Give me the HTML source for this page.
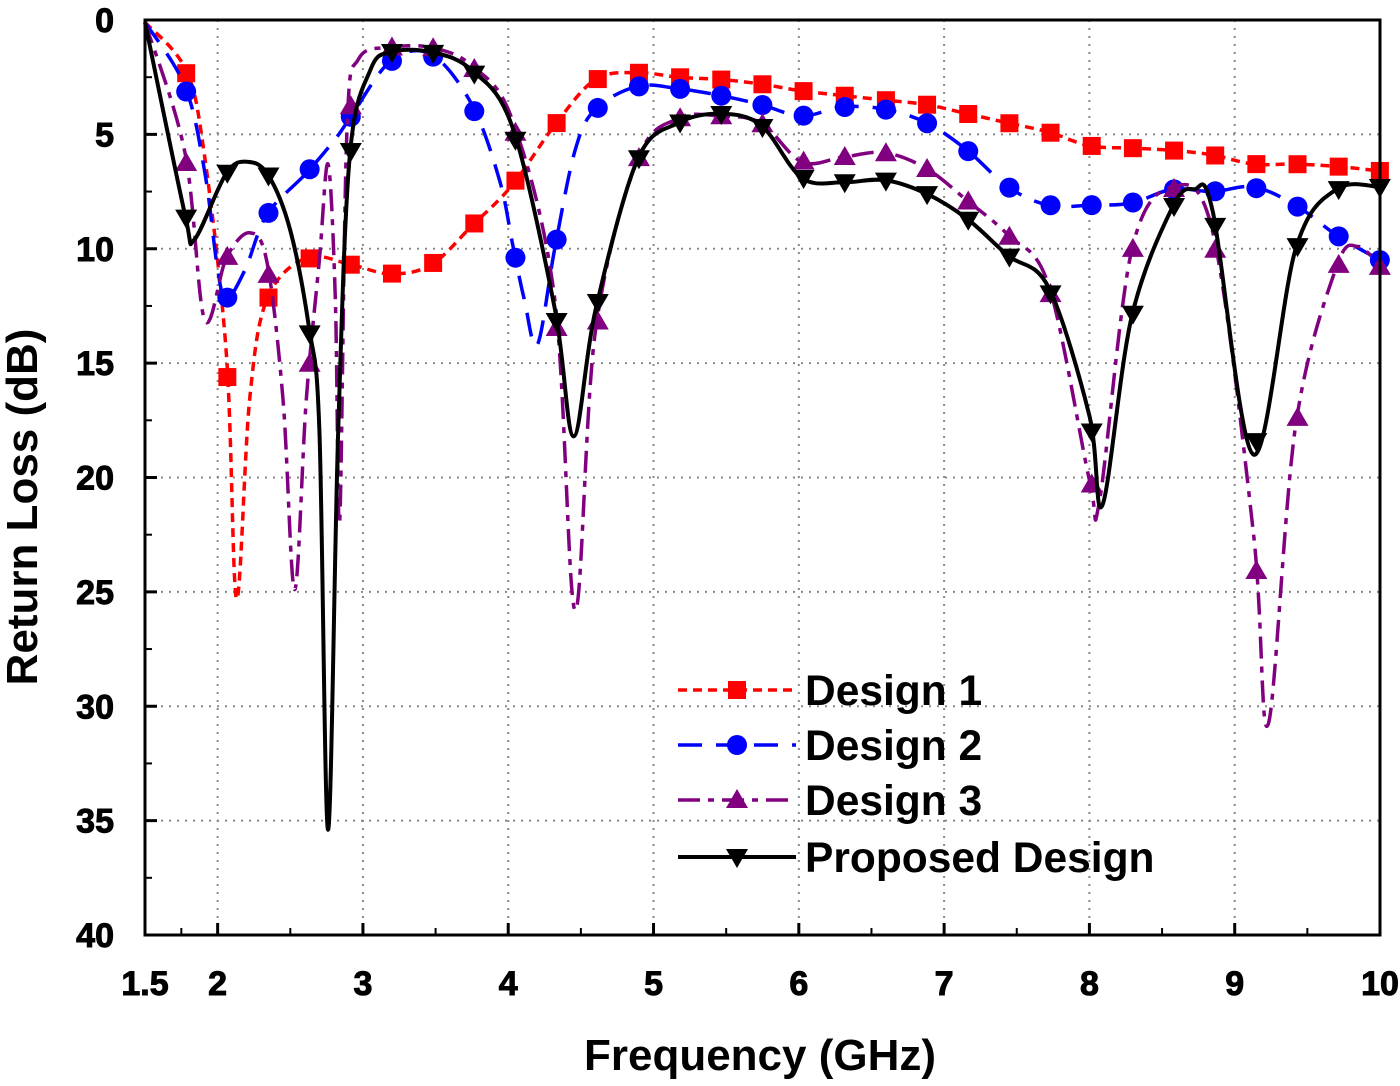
<!DOCTYPE html>
<html><head><meta charset="utf-8"><style>
html,body{margin:0;padding:0;background:#fff;}
svg text{font-family:"Liberation Sans",Arial,sans-serif;font-weight:bold;}
</style></head><body>
<svg id="chart" width="1400" height="1081" viewBox="0 0 1400 1081" xmlns="http://www.w3.org/2000/svg">
<g id="grid"></g>
<g id="series"></g>
<g id="axes"></g>
<g id="legend"></g>
</svg>
<script>
const xTicks = [1.5,2,3,4,5,6,7,8,9,10];
const xTickLabels = ["1.5","2","3","4","5","6","7","8","9","10"];
const yTicks = [0,5,10,15,20,25,30,35,40];
const yTickLabels = ["0","5","10","15","20","25","30","35","40"];
const seriesNames = ["Design 1","Design 2","Design 3","Proposed Design"];
const design1F = [1.5,1.775,1.9,2.06,2.13,2.22,2.34,2.61,2.92,3.19,3.47,3.75,4.03,4.32,4.6,4.89,5.17,5.46,5.74,6.02,6.3,6.59,6.88,7.16,7.44,7.72,8.0,8.29,8.57,8.85,9.13,9.42,9.7,10.0];
const design1V = [0.1,2.1,5.5,14.6,25.3,16.6,12.2,10.4,10.7,11.1,10.7,9.0,7.2,4.6,2.6,2.3,2.5,2.6,2.8,3.1,3.3,3.5,3.7,4.1,4.5,4.9,5.5,5.6,5.7,5.9,6.3,6.3,6.4,6.6];
const design2F = [1.5,1.775,1.91,2.0,2.06,2.19,2.34,2.61,2.81,2.92,3.19,3.47,3.75,3.94,4.03,4.11,4.2,4.32,4.46,4.6,4.89,5.17,5.46,5.74,6.02,6.3,6.59,6.88,7.16,7.44,7.72,8.0,8.29,8.57,8.85,9.13,9.42,9.7,10.0];
const design2V = [0.1,2.9,6.6,10.9,12.2,10.9,8.5,6.7,5.2,4.2,1.8,1.5,3.7,7.0,9.8,12.2,14.2,10.0,5.7,3.9,2.9,3.0,3.3,3.7,4.2,3.8,3.9,4.5,5.7,7.3,8.1,8.1,8.0,7.4,7.5,7.3,8.1,9.4,10.5];
const design3F = [1.5,1.775,1.91,2.06,2.22,2.34,2.45,2.53,2.61,2.7,2.76,2.81,2.84,2.89,2.97,3.19,3.47,3.75,4.03,4.32,4.46,4.6,4.89,5.17,5.46,5.74,6.02,6.3,6.59,6.88,7.16,7.44,7.72,8.0,8.07,8.29,8.57,8.85,9.13,9.23,9.42,9.7,9.85,10.0];
const design3V = [0.1,5.8,13.1,10.4,9.3,10.6,16.6,24.9,16.6,10.5,6.3,12.2,21.9,4.8,1.7,1.2,1.2,2.0,4.4,12.2,25.8,13.6,6.1,4.3,4.2,4.5,6.2,6.0,5.8,6.5,7.9,9.4,11.6,20.1,21.0,10.1,7.3,9.3,22.5,30.8,17.7,10.8,9.9,10.8];
const propF = [1.5,1.775,1.84,2.06,2.21,2.35,2.5,2.63,2.7,2.76,2.83,2.91,3.05,3.19,3.47,3.75,4.03,4.32,4.45,4.6,4.89,5.17,5.46,5.74,6.02,6.3,6.59,6.88,7.16,7.44,7.72,8.0,8.09,8.29,8.57,8.72,8.85,9.13,9.42,9.7,10.0];
const propV = [0.1,8.5,9.6,6.7,6.2,6.8,9.2,13.5,17.9,35.4,17.9,5.9,2.2,1.4,1.4,2.2,4.7,12.6,18.2,12.7,6.1,4.5,4.1,4.6,6.9,7.1,7.0,7.6,8.7,10.3,11.7,17.3,21.2,13.0,8.2,7.4,8.4,19.0,10.0,7.4,7.3];
const markerStep = 0.2833;

const X0=145,X1=1380,Y0=20,Y1=935;
const xs = f => X0 + (f-1.5)/(10-1.5)*(X1-X0);
const ys = v => Y0 + v/40*(Y1-Y0);
const NS="http://www.w3.org/2000/svg";
function mk(tag, attrs, parent){const e=document.createElementNS(NS,tag);for(const k in attrs)e.setAttribute(k,attrs[k]);parent.appendChild(e);return e;}
const grid=document.getElementById('grid'),axes=document.getElementById('axes'),ser=document.getElementById('series'),leg=document.getElementById('legend');

xTicks.forEach((t,i)=>{ if(i===0||i===xTicks.length-1) return;
  const l=mk('line',{x1:xs(t),x2:xs(t),y1:Y0,y2:Y1,stroke:'#888','stroke-width':2,'stroke-dasharray':'2 6'},grid);
  
  
});
yTicks.forEach((t,i)=>{ if(i===0||i===yTicks.length-1) return;
  const l=mk('line',{x1:X0,x2:X1,y1:ys(t),y2:ys(t),stroke:'#888','stroke-width':2,'stroke-dasharray':'2 6'},grid);
  
  
});

function catmull(pts){
  let d=`M${pts[0][0]},${pts[0][1]}`;
  for(let i=0;i<pts.length-1;i++){
    const p0=pts[Math.max(0,i-1)],p1=pts[i],p2=pts[i+1],p3=pts[Math.min(pts.length-1,i+2)];
    const c1=[p1[0]+(p2[0]-p0[0])/6,p1[1]+(p2[1]-p0[1])/6];
    const c2=[p2[0]-(p3[0]-p1[0])/6,p2[1]-(p3[1]-p1[1])/6];
    d+=` C${c1[0]},${c1[1]} ${c2[0]},${c2[1]} ${p2[0]},${p2[1]}`;
  }
  return d;
}
function interp(F,V,f){for(let i=0;i<F.length-1;i++){if(f>=F[i]&&f<=F[i+1]){const t=(f-F[i])/(F[i+1]-F[i]);return V[i]+t*(V[i+1]-V[i]);}}return V[V.length-1];}

const styles=[
 {color:'#ff0000',dash:'9 6',marker:'square',name:'design-1'},
 {color:'#0000ff',dash:'24 14',marker:'circle',name:'design-2'},
 {color:'#800080',dash:'22 8 6 8',marker:'triangle',name:'design-3'},
 {color:'#000000',dash:'',marker:'down',name:'proposed-design'}];
const allF=[design1F,design2F,design3F,propF], allV=[design1V,design2V,design3V,propV];

function marker(type,x,y,color,parent){
  let e;
  if(type==='square') e=mk('rect',{x:x-9,y:y-9,width:18,height:18,fill:color},parent);
  else if(type==='circle') e=mk('circle',{cx:x,cy:y,r:10,fill:color},parent);
  else if(type==='triangle') e=mk('polygon',{points:`${x},${y-11} ${x-11},${y+8} ${x+11},${y+8}`,fill:color},parent);
  else e=mk('polygon',{points:`${x-11},${y-8} ${x+11},${y-8} ${x},${y+11}`,fill:color},parent);
  return e;
}

styles.forEach((s,si)=>{
  const F=allF[si],V=allV[si];
  const g=mk('g',{},ser);
  
  
  const pts=F.map((f,i)=>[xs(f),ys(V[i])]);
  const p=mk('path',{d:catmull(pts),fill:'none',stroke:s.color,'stroke-width':si===3?4:3.5,'stroke-dasharray':s.dash},g);
  
  
  for(let f=1.5+markerStep; f<=10.01; f+=markerStep){
    const m=marker(s.marker,xs(f),ys(interp(F,V,f)),s.color,g);
    
    
  }
});

const fr=mk('rect',{x:X0,y:Y0,width:X1-X0,height:Y1-Y0,fill:'none',stroke:'#000','stroke-width':3},axes);


xTicks.forEach((t,i)=>{
  const l=mk('line',{x1:xs(t),x2:xs(t),y1:Y1,y2:Y1-12,stroke:'#000','stroke-width':3},axes);
  
  
  if(i<xTicks.length-1){const m=(i===0)?1.75:t+0.5;
    const ml=mk('line',{x1:xs(m),x2:xs(m),y1:Y1,y2:Y1-7,stroke:'#000','stroke-width':2},axes);
    
    }
  const tx=mk('text',{x:xs(t),y:995,'text-anchor':'middle','font-size':34,stroke:'#000','stroke-width':1},axes);
  tx.textContent=xTickLabels[i];
  
  
});
yTicks.forEach((t,i)=>{
  const l=mk('line',{x1:X0,x2:X0+12,y1:ys(t),y2:ys(t),stroke:'#000','stroke-width':3},axes);
  
  
  if(i<yTicks.length-1){const ml=mk('line',{x1:X0,x2:X0+7,y1:ys(t+2.5),y2:ys(t+2.5),stroke:'#000','stroke-width':2},axes);
    
    }
  const tx=mk('text',{x:114,y:ys(t)+12,'text-anchor':'end','font-size':34,stroke:'#000','stroke-width':1},axes);
  tx.textContent=yTickLabels[i];
  
  
});
const xt=mk('text',{x:760,y:1070,'text-anchor':'middle','font-size':44},axes);
xt.textContent='Frequency (GHz)';


const yt=mk('text',{x:0,y:0,'text-anchor':'middle','font-size':44,transform:'translate(37,507) rotate(-90)'},axes);
yt.textContent='Return Loss (dB)';



const legY=[690,745,800,857];
styles.forEach((s,si)=>{
  const g=mk('g',{},leg);
  
  
  const l=mk('line',{x1:678,x2:796,y1:legY[si],y2:legY[si],stroke:s.color,'stroke-width':si===3?4:3.5,'stroke-dasharray':s.dash},g);
  
  
  const m=marker(s.marker,737,legY[si],s.color,g);
  
  
  const tx=mk('text',{x:805,y:legY[si]+15,'font-size':42.5},g);
  tx.textContent=seriesNames[si];
  
  
});
</script>
</body></html>
